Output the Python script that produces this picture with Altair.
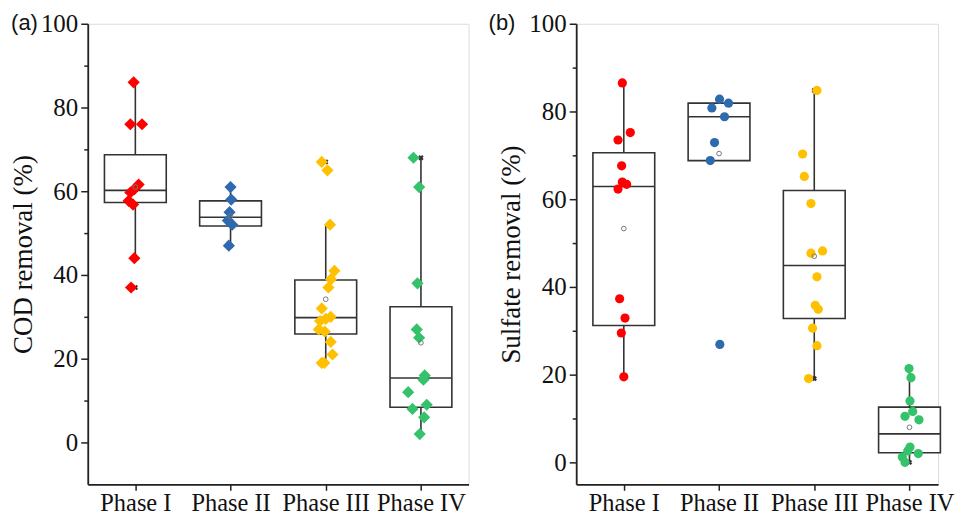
import altair as alt
import pandas as pd

phases = ["Phase I", "Phase II", "Phase III", "Phase IV"]
colors = ["#FF0000", "#2E6AAE", "#FFC000", "#34C26B"]

# ---- (a) COD removal (%) : individual values and horizontal jitter (px) ----
cod_I = [86, 76, 76, 61.6, 60.5, 59.7, 57.7, 56.8, 44, 37]
cod_I_jit = [-1.7, -5, 6.7, 3.3, -1, -5, -6.7, -2.3, -1, -4.3]
cod_II = [61, 58, 55, 53, 52, 47]
cod_II_jit = [0, 0.7, -1, -2.7, 1.7, -1.7]
cod_III = [67, 65, 52, 41, 39, 37, 32, 30, 29.5, 29, 27, 26.5, 24, 21, 19, 19]
cod_III_jit = [-4, 1.7, 4.3, 8.7, 5.3, 2.7, -4, 5, 0, -5.7, -7, -1, 5, 6.8, -4, -1.5]
cod_IV = [68, 61, 38, 27, 25, 16, 15, 12, 9, 8, 6, 2]
cod_IV_jit = [-7.5, -1.8, -3.5, -4.2, -1.8, 3.8, 2.5, -12.8, 5.8, -8.5, 3.2, -1.2]

# box statistics (a)
cod_q1 = [57.3, 51.7, 25.9, 8.4]
cod_med = [60.2, 53.8, 29.8, 15.4]
cod_q3 = [68.7, 57.7, 38.8, 32.4]
cod_wlo = [44, 47, 19, 2]
cod_whi = [86, 61, 52, 68]
cod_mean = [61.0, 54.0, 34.2, 23.8]

# ---- (b) Sulfate removal (%) ----
s_I = [86.5, 75.2, 73.5, 67.6, 63.9, 63.4, 62.3, 37.3, 32.9, 29.5, 19.5]
s_I_jit = [-1.5, 6.5, -5.8, -2.2, -1.5, 2.8, -5.8, -4.2, 1.2, -2.5, 0]
s_II = [82.8, 81.9, 80.8, 78.8, 72.9, 68.8, 26.9]
s_II_jit = [0.5, 9.5, -7.2, 5.5, -4.5, -8.8, 0.8]
s_III = [84.8, 70.3, 65.2, 59, 48.2, 47.7, 42.3, 35.8, 34.9, 30.6, 26.6, 19.1]
s_III_jit = [2.7, -11.7, -10, -3.3, 8.3, -3.3, 2.7, 1, 4, -1.7, 2.7, -5.7]
s_IV = [21.4, 19.3, 14, 11.6, 10.5, 9.7, 3.5, 2.6, 2, 1.2, 0]
s_IV_jit = [-0.5, 1.5, 0.5, 3.2, -4.5, 9.5, 0.5, -1.8, 8.8, -7.2, -4.5]

s_q1 = [31.2, 68.8, 32.8, 2.2]
s_med = [62.9, 78.8, 44.9, 6.5]
s_q3 = [70.6, 81.9, 62.0, 12.6]
s_wlo = [19.5, 68.8, 19.1, 0]
s_whi = [86.5, 82.8, 84.8, 21.4]
s_mean = [53.3, 70.4, 47.0, 8.0]


def points_df(vals, jits):
    rows = []
    for i, (v, j) in enumerate(zip(vals, jits)):
        for a, b in zip(v, j):
            rows.append({"phase": phases[i], "idx": i + 1, "value": a, "jit": b})
    return pd.DataFrame(rows)


def stats_df(q1, med, q3, wlo, whi, mean):
    return pd.DataFrame({"phase": phases, "idx": [1, 2, 3, 4], "q1": q1, "med": med,
                         "q3": q3, "wlo": wlo, "whi": whi, "mean": mean})


SERIF = "Liberation Serif"
label_expr = "[" + ",".join("'%s'" % p for p in phases) + "][datum.value - 1]"


def panel(pts, st, W, H, xmax, ydom, ytitle, tag, tag_x):
    step = W / (xmax - 0.5)
    half = 31.0 / step
    xs = alt.Scale(domain=[0.5, xmax], nice=False, zero=False)
    ys = alt.Scale(domain=ydom, nice=False, zero=False)
    yvals = [v for v in range(0, 101, 10)]
    xaxis = alt.Axis(values=[1, 2, 3, 4], labelExpr=label_expr, title=None, grid=False,
                     labelFont=SERIF, labelFontSize=24.5, labelColor="#111", labelPadding=1,
                     tickSize=6, tickWidth=1.5, tickColor="#222", domainColor="#222",
                     domainWidth=1.8, labelFlush=False)
    yaxis = alt.Axis(values=yvals, title=ytitle, grid=False,
                     labelExpr="datum.value % 20 === 0 ? datum.label : ''",
                     labelFont=SERIF, labelFontSize=25, labelColor="#111", labelPadding=3,
                     titleFont=SERIF, titleFontSize=27, titleFontWeight="normal",
                     titleColor="#111", titlePadding=3,
                     tickSize={"condition": {"test": "datum.value % 20 === 0", "value": 7}, "value": 4},
                     tickWidth=1.5, tickColor="#222", domainColor="#222", domainWidth=1.8)

    sbase = alt.Chart(st).transform_calculate(
        xl="datum.idx - %f" % half, xr="datum.idx + %f" % half)

    box = sbase.mark_rect(fill="white", stroke="#333", strokeWidth=1.6).encode(
        x=alt.X("xl:Q", scale=xs, axis=xaxis), x2="xr:Q",
        y=alt.Y("q1:Q", scale=ys, axis=yaxis), y2="q3:Q")
    wup = sbase.mark_rule(color="#333", strokeWidth=1.6).encode(
        x=alt.X("idx:Q"), y=alt.Y("q3:Q"), y2="whi:Q")
    wdn = sbase.mark_rule(color="#333", strokeWidth=1.6).encode(
        x=alt.X("idx:Q"), y=alt.Y("wlo:Q"), y2="q1:Q")
    med = sbase.mark_rule(color="#333", strokeWidth=1.6).encode(
        x=alt.X("xl:Q"), x2="xr:Q", y=alt.Y("med:Q"))

    pbase = alt.Chart(pts)
    mn = pbase.mark_point(shape="cross", angle=45, filled=True, size=30, color="#333", opacity=1).encode(
        x=alt.X("idx:Q"), y=alt.Y("min(value):Q"))
    mx = pbase.mark_point(shape="cross", angle=45, filled=True, size=30, color="#333", opacity=1).encode(
        x=alt.X("idx:Q"), y=alt.Y("max(value):Q"))

    shape = "diamond" if tag == "(a)" else "circle"
    size = 150 if tag == "(a)" else 85
    dots = pbase.transform_calculate(xj="datum.idx + datum.jit / %f" % step).mark_point(
        shape=shape, filled=True, size=size, opacity=1, strokeWidth=0).encode(
        x=alt.X("xj:Q"), y=alt.Y("value:Q"),
        color=alt.Color("phase:N", scale=alt.Scale(domain=phases, range=colors), legend=None))

    mean = sbase.mark_point(shape="circle", filled=False, size=22, color="#777",
                            strokeWidth=1, opacity=1).encode(x=alt.X("idx:Q"), y=alt.Y("mean:Q"))

    label = alt.Chart(pd.DataFrame({"t": [tag]})).mark_text(
        font="Liberation Sans", fontSize=22, align="right", baseline="middle", color="#111").encode(
        x=alt.value(tag_x), y=alt.value(-1), text="t:N")

    return alt.layer(box, wup, wdn, med, mn, mx, dots, mean, label).properties(width=W, height=H)


pa = panel(points_df([cod_I, cod_II, cod_III, cod_IV], [cod_I_jit, cod_II_jit, cod_III_jit, cod_IV_jit]),
           stats_df(cod_q1, cod_med, cod_q3, cod_wlo, cod_whi, cod_mean),
           382, 462, 4.5, [-10, 100], "COD removal (%)", "(a)", -50)
pb = panel(points_df([s_I, s_II, s_III, s_IV], [s_I_jit, s_II_jit, s_III_jit, s_IV_jit]),
           stats_df(s_q1, s_med, s_q3, s_wlo, s_whi, s_mean),
           363, 462, 4.3, [-5, 100], "Sulfate removal (%)", "(b)", -61)

chart = alt.hconcat(pa, pb, spacing=18).properties(
    padding={"left": 1, "top": 2, "right": 0, "bottom": 0}
).configure_view(stroke=None).configure_axis(
    labelFont=SERIF, titleFont=SERIF
).configure(background="white")

chart.save("out.html", embed_options={"renderer": "svg", "actions": False})
